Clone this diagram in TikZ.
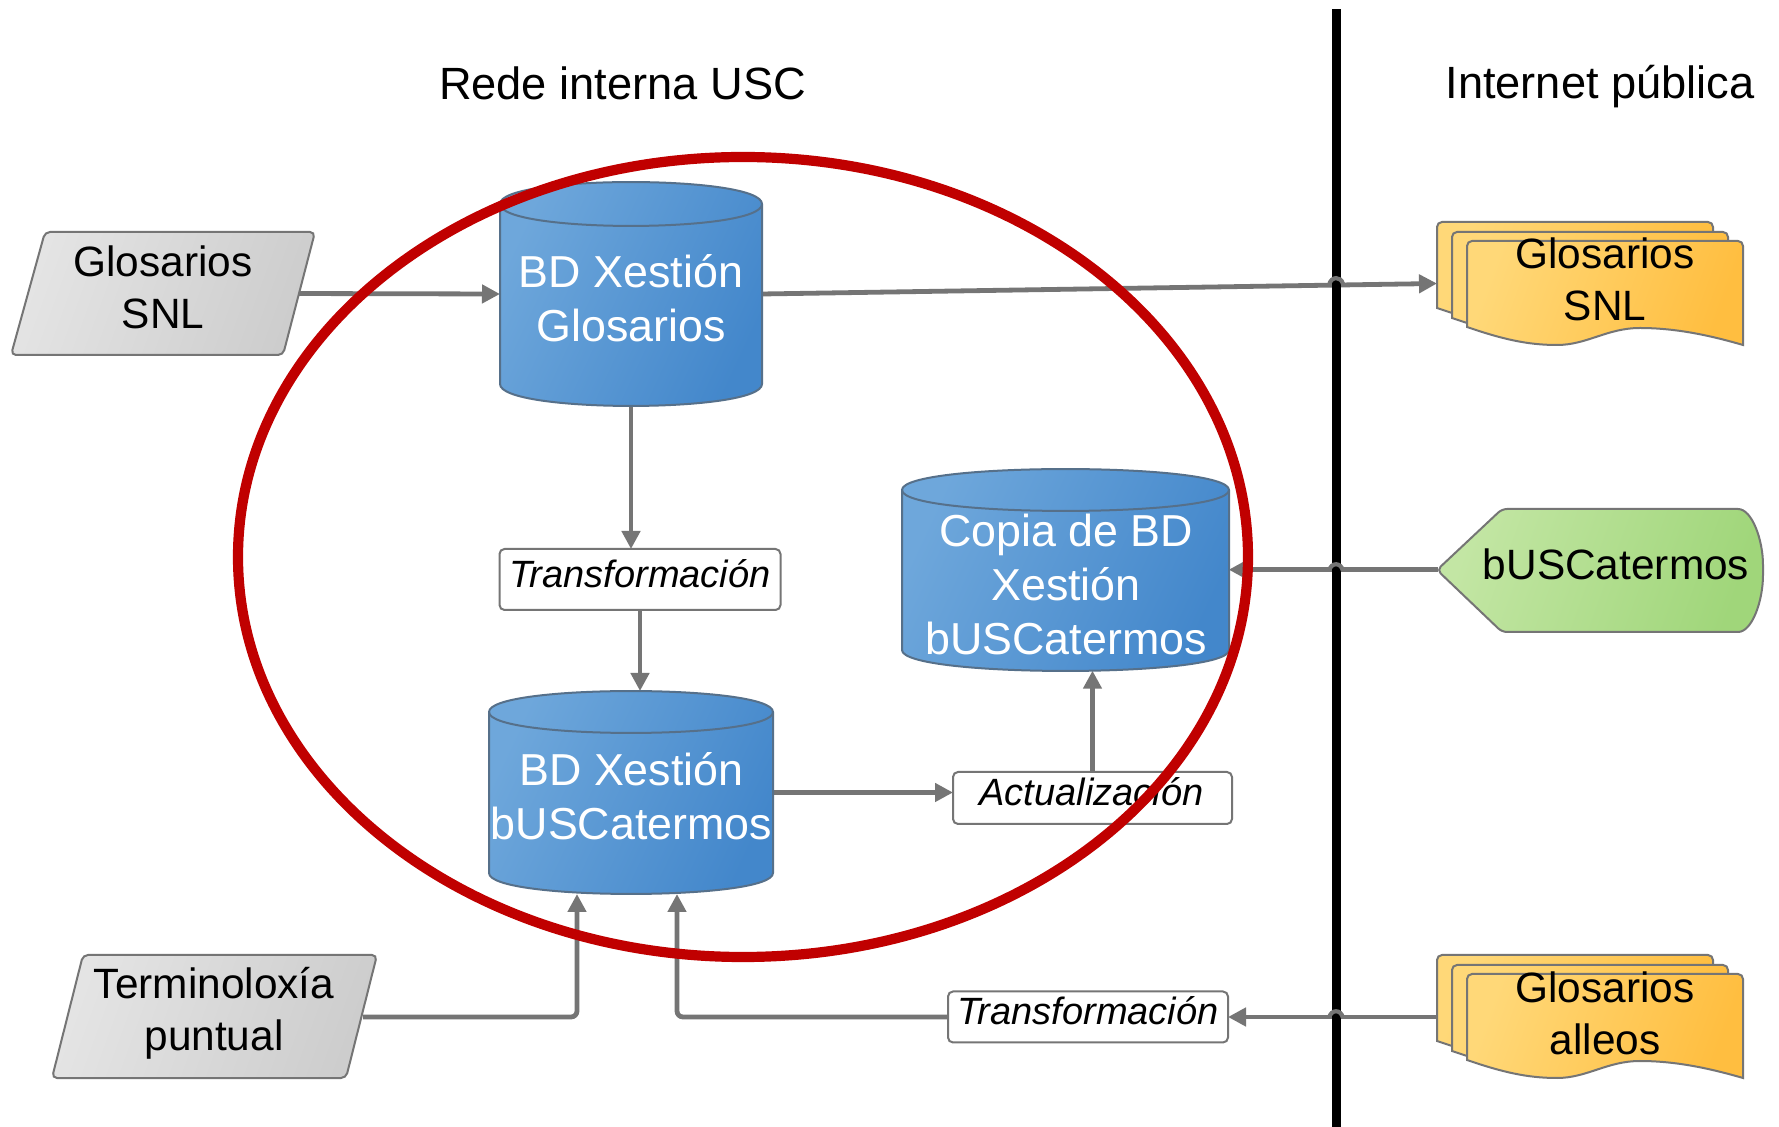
\documentclass[tikz,border=0pt]{standalone}
\usepackage{fontspec}
\setmainfont{Liberation Sans}
\usetikzlibrary{arrows.meta,calc}
\definecolor{conn}{HTML}{757575}
\definecolor{cylline}{HTML}{56708A}
\definecolor{blueL}{HTML}{6EA7DB}
\definecolor{blueR}{HTML}{4387CB}
\definecolor{grayL}{HTML}{E4E4E4}
\definecolor{grayR}{HTML}{CDCDCD}
\definecolor{yelL}{HTML}{FFD878}
\definecolor{yelR}{HTML}{FFBE40}
\definecolor{grnL}{HTML}{C3E6A4}
\definecolor{grnR}{HTML}{A0D67A}
\definecolor{redring}{HTML}{C00000}
\tikzset{
  x=0.5pt,y=-0.5pt,
  connector/.style={draw=conn,line width=2.4pt,-{Triangle[length=9pt,width=9pt]},rounded corners=3pt},
  plainline/.style={draw=conn,line width=2.1pt},
  frame/.style={inner sep=0pt,outer sep=0pt},
  cylshape/.style={draw=cylline,line width=1pt,left color=blueL,right color=blueR,shading angle=65},
  paper/.style={draw=conn,line width=1pt,rounded corners=2.5pt,left color=grayL,right color=grayR,shading angle=70},
  pagesheet/.style={draw=conn,line width=1pt,left color=yelL,right color=yelR,shading angle=70},
  tag/.style={draw=conn,line width=1pt,rounded corners=2.5pt,left color=grnL,right color=grnR,shading angle=70},
  procbox/.style={draw=conn,line width=1pt,fill=white,rounded corners=2.5pt,inner sep=0pt,outer sep=0pt},
  head/.style={font=\fontsize{22.6}{27}\selectfont,inner sep=0pt},
  blk/.style={font=\fontsize{21.2}{26}\selectfont,inner sep=0pt,align=center,text=black},
  wht/.style={font=\fontsize{22.4}{27}\selectfont,inner sep=0pt,align=center,text=white},
  ital/.style={font=\fontsize{19}{22}\selectfont\itshape,inner sep=0pt,anchor=base},
}
\newcommand{\cylfig}[5]{% L R T(top) ry B
  \path[cylshape] (#1,#3+#4) .. controls (#1,#3-0.33*#4) and (#2,#3-0.33*#4) .. (#2,#3+#4)
     -- (#2,#5-#4) .. controls (#2,#5+0.33*#4) and (#1,#5+0.33*#4) .. (#1,#5-#4) -- cycle;
  \draw[draw=cylline,line width=1pt] (#1,#3+#4) .. controls (#1,#3+2.33*#4) and (#2,#3+2.33*#4) .. (#2,#3+#4);
}
\newcommand{\pagefig}[2]{%
  \begin{scope}[shift={(#1,#2)}]
    \path[pagesheet] (0,86) [rounded corners=2.5pt] -- (0,0) -- (276,0) [sharp corners] -- (276,104)
      .. controls (245,95) and (210,87) .. (173,87)
      .. controls (140,87) and (120,104) .. (90,104)
      .. controls (60,104) and (35,98) .. (0,86) -- cycle;
  \end{scope}
}
\newcommand{\stackfig}[1]{%
  \begin{scope}[shift={(0,#1)}]
    \pagefig{1437}{222}\pagefig{1452}{232}\pagefig{1467}{241}
  \end{scope}
}
\begin{document}
\begin{tikzpicture}
\useasboundingbox (0,0) rectangle (1779,1127);
\fill[white] (0,0) rectangle (1779,1127);

% frames that carry the names of the drawn shapes
\node[frame,minimum width=136pt,minimum height=61.5pt] (gsnl) at (163,293.5) {};
\node[frame,minimum width=162.5pt,minimum height=61.5pt] (term) at (214.5,1017) {};
\node[frame,minimum width=131pt,minimum height=112pt] (cylA) at (631,294) {};
\node[frame,minimum width=163.5pt,minimum height=101pt] (cylB) at (1065.2,569.7) {};
\node[frame,minimum width=142pt,minimum height=101.5pt] (cylC) at (631,792.5) {};
\node[frame,minimum width=153pt,minimum height=61.5pt] (docA) at (1590,283.5) {};
\node[frame,minimum width=153pt,minimum height=61.5pt] (docC) at (1590,1017) {};
\node[frame,minimum width=162pt,minimum height=61.5pt] (busc) at (1600,569.7) {};
\coordinate (inA) at ($(cylC.south)+(-54,0)$);
\coordinate (inB) at ($(cylC.south)+(46,0)$);

% process boxes
\node[procbox,minimum width=140.5pt,minimum height=30.5pt] (trA) at (640,579.5) {};
\node[procbox,minimum width=139.5pt,minimum height=26pt] (act) at (1092.5,798) {};
\node[procbox,minimum width=140pt,minimum height=25.5pt] (trB) at (1088,1017) {};

% connectors
\draw[connector] (gsnl.east) ++(-14,0) -- (cylA.west);
\draw[connector] (cylA.east) -- (docA.west);
\draw[connector] (cylA.south) -- (cylA.south |- trA.north);
\draw[connector] (trA.south) -- (trA.south |- cylC.north);
\draw[connector] (cylC.east) -- (act.west |- cylC.east);
\draw[connector] (act.north) -- (act.north |- cylB.south);
\draw[connector] (busc.west) -- (cylB.east);
\draw[connector] (term.east) ++(-14,0) -| (inA);
\draw[connector] (trB.west) -| (inB);
\draw[connector] (docC.west) -- (trB.east);

% shapes
\path[paper] (45,232) -- (315,232) -- (283,355) -- (11,355) -- cycle;
\path[paper] (83,955) -- (377,955) -- (346,1078) -- (52,1078) -- cycle;
\cylfig{500}{762}{182}{22}{406}
\cylfig{902}{1229}{469}{21}{671}
\cylfig{489}{773}{691}{21}{894}
\stackfig{0}
\stackfig{733}
\path[tag] (1437,570) -- (1502,509) -- (1733,509) .. controls (1752,509) and (1763,540) .. (1763,570)
   .. controls (1763,601) and (1752,632) .. (1733,632) -- (1502,632) -- cycle;

% texts
\node[head,anchor=base] (h1) at (622.5,99.5) {Rede interna USC};
\node[head,anchor=base] (h2) at (1600,99) {Internet pública};
\node[blk] (t1) at (163,287) {Glosarios\\SNL};
\node[blk] (t2) at (214,1013) {Terminoloxía\\puntual};
\node[blk] (t3) at (1605,279) {Glosarios\\SNL};
\node[blk] (t4) at (1605,1013) {Glosarios\\alleos};
\node[blk,anchor=base] (t5) at (1616,580) {bUSCatermos};
\node[wht] (t6) at (631,298) {BD Xestión\\Glosarios};
\node[wht] (t7) at (631.5,796) {BD Xestión\\bUSCatermos};
\node[wht] (t8) at (1066,584) {Copia de BD\\Xestión\\bUSCatermos};
\node[ital] (t9) at (640,588) {Transformación};
\node[ital] (t10) at (1091.5,806) {Actualización};
\node[ital] (t11) at (1088,1025) {Transformación};

% boundary line and crossings
\fill[black] (1331.5,9) rectangle (1340.5,1127);
\draw[plainline] (1329,285) .. controls (1331,276) and (1341,276) .. (1343,284);
\draw[plainline] (1329,571) .. controls (1331,562) and (1341,562) .. (1343,571);
\draw[plainline] (1329,1018) .. controls (1331,1009) and (1341,1009) .. (1343,1018);

% red ring
\draw[redring,line width=5.1pt] (743,557) ellipse [x radius=505,y radius=400];
\end{tikzpicture}
\end{document}
